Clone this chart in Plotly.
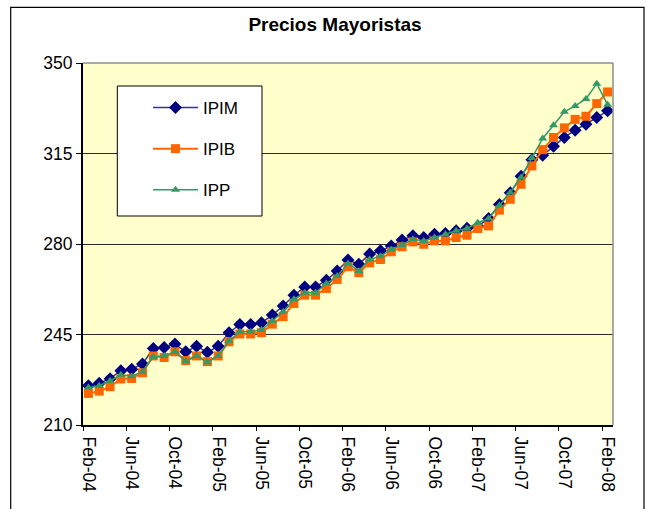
import plotly.graph_objects as go
import pandas as pd

# ---- data ----
months = [d.strftime("%b-%y") for d in pd.date_range("2004-02-01", "2008-02-01", freq="MS")]
tick_labels = ["Feb-04", "Jun-04", "Oct-04", "Feb-05", "Jun-05", "Oct-05", "Feb-06",
               "Jun-06", "Oct-06", "Feb-07", "Jun-07", "Oct-07", "Feb-08"]
y_ticks = [210, 245, 280, 315, 350]

ipim = [225.2, 226.1, 227.9, 231.0, 231.6, 233.6, 239.6, 240.0, 241.3, 238.3, 240.5, 238.1,
        240.5, 245.7, 248.9, 248.9, 249.5, 252.5, 256.0, 260.2, 263.4, 263.4, 266.0, 269.6,
        273.8, 272.2, 276.1, 277.4, 279.2, 281.5, 283.2, 282.5, 283.8, 284.1, 285.1, 286.1,
        286.9, 289.9, 295.3, 299.8, 306.2, 312.6, 314.3, 317.8, 321.2, 324.0, 326.3, 328.9,
        331.5]
ipib = [222.2, 223.1, 224.8, 227.8, 228.0, 230.2, 236.7, 236.1, 238.3, 234.9, 236.7, 234.5,
        236.7, 242.2, 245.2, 245.2, 245.7, 249.0, 251.9, 257.0, 260.2, 260.2, 262.8, 266.3,
        271.2, 268.9, 272.7, 274.0, 277.0, 278.9, 280.8, 279.9, 281.2, 281.2, 282.5, 283.4,
        286.0, 287.0, 293.1, 297.3, 303.1, 310.2, 316.5, 321.2, 324.9, 328.2, 329.4, 334.3,
        338.8]
ipp = [224.5, 225.2, 227.1, 229.4, 228.9, 230.6, 236.4, 236.7, 238.3, 234.7, 236.7, 234.2,
       236.7, 242.6, 246.1, 246.1, 246.7, 250.2, 253.8, 258.6, 261.1, 261.1, 264.7, 267.6,
       272.5, 269.6, 274.0, 275.3, 277.9, 279.6, 281.8, 281.2, 282.5, 283.8, 285.1, 286.0,
       288.2, 289.9, 294.9, 299.9, 305.7, 313.3, 320.8, 325.9, 331.1, 333.4, 336.1, 342.0,
       333.9]

FONT = "Liberation Sans, Arial, sans-serif"
idx = list(range(len(months)))
label_pos = [months.index(t) for t in tick_labels]
boundary_pos = [p - 0.5 for p in label_pos]

# plot-area geometry (px)
L, R, T, B = 83, 613, 63, 425
PW, PH = R - L, B - T
def px(x):
    return (x - L) / PW
def py(y):
    return (B - y) / PH

fig = go.Figure()
series = [
    ("IPIM", ipim, "#333399", "#000080", "diamond", 10, 1.5),
    ("IPIB", ipib, "#FF6600", "#FF6600", "square", 9, 2),
    ("IPP", ipp, "#339966", "#339966", "triangle-up", 8, 1.5),
]
for name, vals, lc, mc, sym, ms, lw in series:
    fig.add_trace(go.Scatter(
        x=idx, y=vals, name=name, mode="lines+markers",
        line=dict(color=lc, width=lw),
        marker=dict(color=mc, symbol=sym, size=ms, line=dict(width=0)),
        legendgroup=name,
    ))
# invisible trace so the boundary-tick axis is drawn
fig.add_trace(go.Scatter(x=idx, y=ipim, xaxis="x2", mode="lines",
                         line=dict(width=0), opacity=0, showlegend=False, hoverinfo="skip"))

fig.update_layout(
    width=647, height=509,
    margin=dict(l=L, r=647 - R, t=T, b=509 - B, autoexpand=False),
    paper_bgcolor="white", plot_bgcolor="#FFFFCC",
    font=dict(family=FONT, size=17, color="black"),
    title=dict(text="<b>Precios Mayoristas</b>", x=335 / 647, xanchor="center",
               y=1 - 24 / 509, yanchor="middle", font=dict(size=19, family=FONT)),
    xaxis=dict(range=[-0.5, 48.5], tickmode="array", tickvals=label_pos, ticktext=tick_labels,
               tickangle=90, ticks="", showgrid=False, zeroline=False, ticklabelstandoff=6,
               showline=True, linecolor="black", linewidth=2, tickfont=dict(size=17.5)),
    xaxis2=dict(range=[-0.5, 48.5], overlaying="x", side="bottom", tickmode="array",
                tickvals=boundary_pos, showticklabels=False, ticks="outside", ticklen=5,
                tickcolor="black", tickwidth=1, showgrid=False, zeroline=False, showline=False),
    yaxis=dict(range=[210, 350], tickmode="array", tickvals=y_ticks, ticks="outside",
               ticklen=5, tickcolor="black", showgrid=True, gridcolor="#2a2a2a", gridwidth=1,
               zeroline=False, showline=True, linecolor="black", linewidth=2,
               tickfont=dict(size=17.5)),
    legend=dict(x=px(148), y=py(90), xanchor="left", yanchor="top",
                bgcolor="rgba(0,0,0,0)", borderwidth=0,
                font=dict(size=17, family=FONT), tracegroupgap=16, itemwidth=45),
    showlegend=True,
    shapes=[
        # legend box
        dict(type="rect", xref="paper", yref="paper", x0=px(117.3), x1=px(262),
             y0=py(216), y1=py(86), line=dict(color="black", width=1),
             fillcolor="white", layer="above"),
        # gray plot-area frame (top/right)
        dict(type="line", xref="paper", yref="paper", x0=0, x1=1, y0=1, y1=1,
             line=dict(color="#8c8c8c", width=1.5), layer="above"),
        dict(type="line", xref="paper", yref="paper", x0=1, x1=1, y0=0, y1=1,
             line=dict(color="#8c8c8c", width=1.5), layer="above"),
        # outer chart border
        dict(type="rect", xref="paper", yref="paper",
             x0=px(10.7), x1=px(644), y0=py(520), y1=py(7.3),
             line=dict(color="black", width=1.2), fillcolor="rgba(0,0,0,0)", layer="above"),
    ],
)
fig.write_html(
    "out.html",
    config={"displayModeBar": False},
    post_script="document.body.style.margin='0';"
                "document.body.style.overflow='hidden';"
                "document.documentElement.style.overflow='hidden';",
)
